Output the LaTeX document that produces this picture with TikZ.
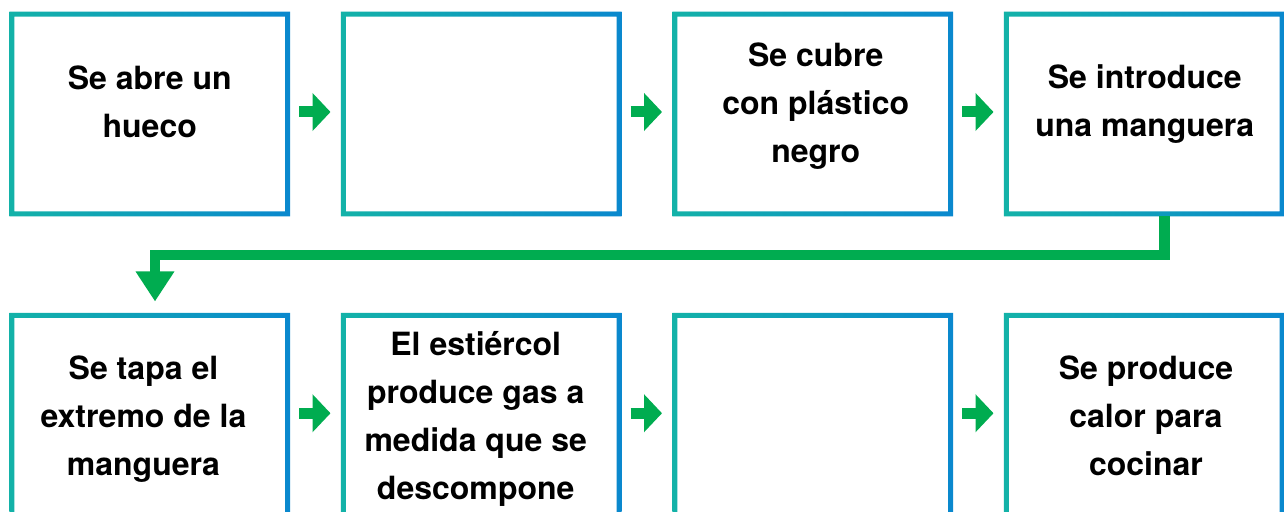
\documentclass[tikz,border=0pt]{standalone}
\usepackage{fontspec}
\setmainfont{TeX Gyre Heros}
\usetikzlibrary{arrows.meta}
\definecolor{tealc}{RGB}{19,178,168}
\definecolor{bluec}{RGB}{10,136,206}
\definecolor{greenc}{RGB}{0,172,80}
\tikzset{
	box/.style={rectangle, minimum width=280.5pt, minimum height=204.5pt, inner sep=0pt},
	txt/.style={align=center, font=\bfseries\fontsize{32}{48}\selectfont},
	flow/.style={draw=greenc, line width=11pt, -{Triangle[length=18pt, width=37pt]}, shorten <=9pt, shorten >=10.3pt},
	bigflow/.style={draw=greenc, line width=10.5pt, -{Triangle[length=30pt, width=36.7pt]}}
}
\begin{document}
\begin{tikzpicture}[x=1pt, y=1pt]
	\useasboundingbox (0,0) rectangle (1284,511);
	\clip (0,0) rectangle (1284,511);
	% top row of steps
	\node [box] (s1) at (149.75, 397) {};
	\node [box] (s2) at (481.25, 397) {};
	\node [box] (s3) at (812.75, 397) {};
	\node [box] (s4) at (1144.25, 397) {};
	% bottom row of steps
	\node [box] (s5) at (149.75, 95.75) {};
	\node [box] (s6) at (481.25, 95.75) {};
	\node [box] (s7) at (812.75, 95.75) {};
	\node [box] (s8) at (1144.25, 95.75) {};
	% frames going from teal to blue
	\foreach \s in {s1,s2,s3,s4,s5,s6,s7,s8}
		\shade [left color=tealc, right color=bluec, even odd rule] (\s.south west) rectangle (\s.north east) ([shift={(5,5)}]\s.south west) rectangle ([shift={(-5,-5)}]\s.north east);
	% what happens in each step
	\node [txt] (t1) at ([shift={(0,12.2)}]s1.center) {Se abre un\\hueco};
	\node [txt] (t3) at ([shift={(3,8.1)}]s3.center) {Se cubre\\con plástico\\negro};
	\node [txt] (t4) at ([shift={(0.5,9.8)}]s4.center) {Se introduce\\una manguera};
	\node [txt] (t5) at ([shift={(-6.3,-3.6)}]s5.center) {Se tapa el\\extremo de la\\manguera};
	\node [txt] (t6) at ([shift={(-5.5,-3.6)}]s6.center) {El estiércol\\produce gas a\\medida que se\\descompone};
	\node [txt] (t8) at ([shift={(1.7,-0.6)}]s8.center) {Se produce\\calor para\\cocinar};
	% little arrows in between
	\draw [flow] ([yshift=2]s1.east) -- ([yshift=2]s2.west);
	\draw [flow] ([yshift=2]s2.east) -- ([yshift=2]s3.west);
	\draw [flow] ([yshift=2]s3.east) -- ([yshift=2]s4.west);
	\draw [flow] ([yshift=2]s5.east) -- ([yshift=2]s6.west);
	\draw [flow] ([yshift=2]s6.east) -- ([yshift=2]s7.west);
	\draw [flow] ([yshift=2]s7.east) -- ([yshift=2]s8.west);
	% long way down to the next row
	\draw [bigflow] ([xshift=20]s4.south) -- ++(0,-38.7) -| ([xshift=5.25, yshift=11.3]s5.north);
\end{tikzpicture}
\end{document}
